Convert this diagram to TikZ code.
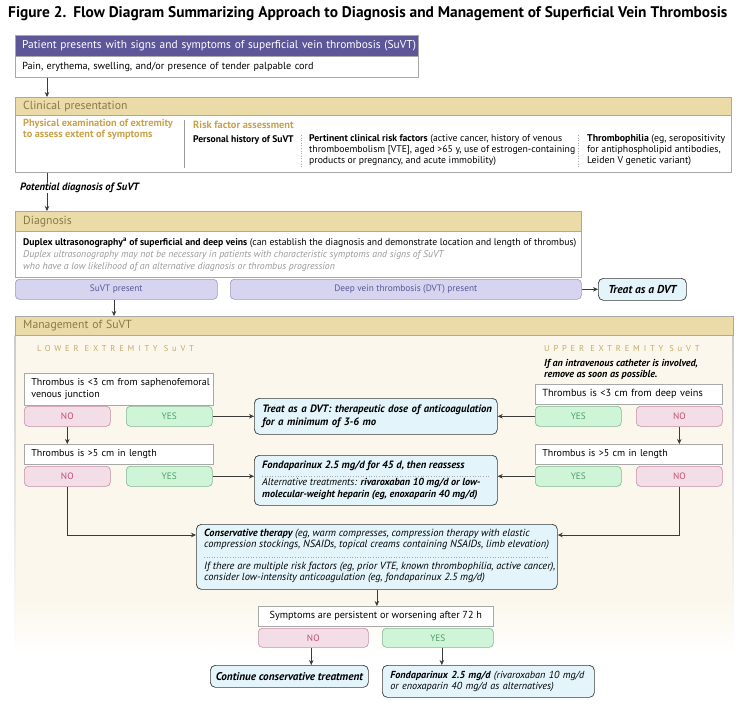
\documentclass[tikz,border=0pt]{standalone}
\usepackage{fontspec}
\setmainfont{PT Sans}
\usetikzlibrary{arrows.meta,calc}
\definecolor{purpH}{HTML}{5D5698}
\definecolor{purpL}{HTML}{D6D4EF}
\definecolor{purpB}{HTML}{9C98C8}
\definecolor{purpT}{HTML}{5A5896}
\definecolor{tanH}{HTML}{EADBA8}
\definecolor{tanT}{HTML}{8A7A4A}
\definecolor{goldT}{HTML}{C9A24C}
\definecolor{goldL}{HTML}{C8A86A}
\definecolor{cream}{HTML}{FBF7EC}
\definecolor{pinkF}{HTML}{F3DDE6}
\definecolor{pinkB}{HTML}{C58FA5}
\definecolor{pinkT}{HTML}{C0506E}
\definecolor{greenF}{HTML}{CFF5D8}
\definecolor{greenB}{HTML}{86B592}
\definecolor{greenT}{HTML}{4D9E64}
\definecolor{blueF}{HTML}{E3F5FB}
\definecolor{grayB}{HTML}{A8A8A8}
\definecolor{grayT}{HTML}{9A9A9A}
\definecolor{lineC}{HTML}{3A3A3A}
\newcommand\myTitle{\fontsize{15.4}{17}\selectfont\bfseries}
\newcommand\myHdr{\fontsize{11.4}{13}\selectfont}
\newcommand\myTan{\fontsize{11.7}{13}\selectfont}
\newcommand\myBody{\fontsize{10.2}{11}\selectfont}
\newcommand\myQ{\fontsize{10}{12}\selectfont}
\newcommand\myBtn{\fontsize{9.3}{11}\selectfont}
\newcommand\mySpaced{\fontsize{8.5}{10}\selectfont\addfontfeature{LetterSpace=45}}
\begin{document}
\begin{tikzpicture}[x=1pt,y=-1pt,
  txt/.style={inner sep=0pt, align=left, font=\myBody, text=black},
  hdrbar/.style={anchor=north west, inner xsep=8pt, inner ysep=0pt, align=left, fill=tanH, text=tanT, font=\myTan, draw=grayB, line width=0.5pt},
  bodybox/.style={anchor=north west, inner sep=0pt, fill=white, draw=grayB, line width=0.6pt},
  qbox/.style={anchor=north west, inner xsep=7pt, inner ysep=0pt, align=left, fill=white, draw=grayB, line width=0.6pt, font=\myQ},
  btn/.style={anchor=north west, rounded corners=4pt, line width=0.6pt, inner sep=0pt, font=\myBtn},
  nobtn/.style={btn, fill=pinkF, draw=pinkB, text=pinkT, minimum height=20pt},
  yesbtn/.style={btn, fill=greenF, draw=greenB, text=greenT, minimum height=20pt},
  pbtn/.style={btn, fill=purpL, draw=purpB, text=purpT, minimum height=20pt},
  tbox/.style={anchor=north west, draw=lineC, fill=blueF, rounded corners=5pt, line width=0.7pt, inner sep=0pt},
  arr/.style={-{Stealth[length=5pt,width=4.5pt]}, line width=0.6pt, draw=lineC},
  conn/.style={line width=0.6pt, draw=lineC},
  dotsep/.style={draw=grayB, line width=0.6pt, dotted},
]
\useasboundingbox (0,0) rectangle (743,711);
\fill[white] (0,0) rectangle (743,711);

% Title
\node[anchor=west, inner sep=0pt, font=\myTitle] (title) at (8,14)
  {Figure 2.\hspace{0.45em}Flow Diagram Summarizing Approach to Diagnosis and Management of Superficial Vein Thrombosis};

% Patient presents
\node[anchor=north west, fill=purpH, text=white, minimum width=403pt, minimum height=21pt, inner xsep=7pt, inner ysep=0pt, text width=389pt, align=left, font=\myHdr] (pat) at (15,35)
  {\mbox{Patient presents with signs and symptoms of superficial vein thrombosis (SuVT)}};
\node[bodybox, minimum width=403pt, minimum height=21pt, inner xsep=7pt, text width=389pt, align=left, font=\myBody] (pain) at (15,56)
  {Pain, erythema, swelling, and/or presence of tender palpable cord};
\draw[draw=grayB, line width=0.6pt] (pat.north west) rectangle (pain.south east);

% Clinical presentation
\node[hdrbar, minimum width=716pt, minimum height=18pt, text width=700pt] (clinh) at (15,97) {Clinical presentation};
\node[bodybox, minimum width=716pt, minimum height=57pt] (clinb) at (15,115) {};
\draw[arr] ([xshift=32pt]pain.south west) -- ([xshift=32pt]clinh.north west);

\node[txt, anchor=north west, text=goldT, font=\fontsize{10.3}{11}\selectfont\bfseries] (phys) at (23,119)
  {Physical examination of extremity\\to assess extent of symptoms};
\draw[draw=grayT, line width=0.8pt] (184,120) -- (184,168);
\node[txt, anchor=west, text=goldT, font=\fontsize{10.4}{11}\selectfont\bfseries] (rfa) at (193,125) {Risk factor assessment};
\node[txt, anchor=west, font=\fontsize{9.6}{11}\selectfont\bfseries] (phist) at (193,140) {Personal history of SuVT};
\draw[dotsep] (301,135) -- (301,168);
\node[txt, anchor=north west, font=\fontsize{9.7}{11}\selectfont] (pcrf) at (309,134)
  {\textbf{Pertinent clinical risk factors} (active cancer, history of venous\\thromboembolism [VTE], aged >65 y, use of estrogen-containing\\products or pregnancy, and acute immobility)};
\draw[dotsep] (578,135) -- (578,168);
\node[txt, anchor=north west, font=\fontsize{9.8}{11}\selectfont] (thph) at (587,134)
  {\textbf{Thrombophilia} (eg, seropositivity\\for antiphospholipid antibodies,\\Leiden V genetic variant)};

% Potential diagnosis
\node[txt, anchor=west, font=\fontsize{10.6}{12}\selectfont\bfseries\itshape] (pdx) at (20,188) {Potential diagnosis of SuVT};
\draw[conn] ([xshift=32pt]clinb.south west) -- ([xshift=32pt]clinb.south west |- pdx.north);

% Diagnosis
\node[hdrbar, minimum width=566pt, minimum height=20pt, text width=550pt] (diagh) at (15,211) {Diagnosis};
\node[bodybox, minimum width=566pt, minimum height=46pt] (diagb) at (15,231) {};
\draw[arr] ([xshift=32pt]clinb.south west |- pdx.south) -- ([xshift=32pt]diagh.north west);
\node[txt, anchor=west, font=\fontsize{9.7}{11}\selectfont] (dup) at (23,243)
  {\textbf{Duplex ultrasonography\textsuperscript{a} of superficial and deep veins} (can establish the diagnosis and demonstrate location and length of thrombus)};
\node[txt, anchor=north west, text=grayT, font=\fontsize{9.8}{12}\selectfont\itshape, align=left] (dupn) at (23,250)
  {Duplex ultrasonography may not be necessary in patients with characteristic symptoms and signs of SuVT\\who have a low likelihood of an alternative diagnosis or thrombus progression};

\node[pbtn, minimum width=202pt] (suvt) at (15,279) {SuVT present};
\node[pbtn, minimum width=351pt] (dvt) at (230,279) {Deep vein thrombosis (DVT) present};
\node[tbox, minimum width=88pt, minimum height=22pt, font=\fontsize{11.5}{13}\selectfont\bfseries\itshape] (tdvt) at (598,278) {Treat as a DVT};
\draw[arr] (dvt.east) -- (dvt.east -| tdvt.west);

% Management
\fill[cream] (15,335) rectangle (733,600);
\shade[top color=cream, bottom color=white] (15,599.5) rectangle (733,655);
\shade[top color=grayB!60, bottom color=white] (14.7,335) rectangle (15.3,655);
\shade[top color=grayB!60, bottom color=white] (732.7,335) rectangle (733.3,655);
\node[hdrbar, minimum width=718pt, minimum height=19pt, text width=702pt] (mgmth) at (15,316) {Management of SuVT};
\draw[arr] ([xshift=99pt]suvt.south west) -- ([xshift=99pt]mgmth.north west);

\node[txt, anchor=west, text=goldL, font=\mySpaced] (lower) at (37,349) {LOWER EXTREMITY SuVT};
\node[txt, anchor=west, text=goldL, font=\mySpaced] (upper) at (544,349) {UPPER EXTREMITY SuVT};
\node[txt, anchor=north west, font=\fontsize{10.1}{11}\selectfont\bfseries\itshape] (cath) at (544,359)
  {If an intravenous catheter is involved,\\remove as soon as possible.};

% Row 1
\node[qbox, minimum height=32pt, text width=175pt] (lq1) at (24,373) {\mbox{Thrombus is <3 cm from saphenofemoral}\\venous junction};
\node[nobtn, minimum width=86pt] (ln1) at (24,406) {NO};
\node[yesbtn, minimum width=86pt] (ly1) at (126,406) {YES};
\node[tbox, minimum height=36pt, inner xsep=8pt, text width=227pt, align=left, font=\fontsize{10.7}{12.5}\selectfont\bfseries\itshape] (t1) at (254,398)
  {\mbox{Treat as a DVT: therapeutic dose of anticoagulation}\\for a minimum of 3-6 mo};
\node[qbox, minimum height=20pt, text width=173pt, font=\fontsize{10.3}{12}\selectfont] (rq1) at (535,384) {\mbox{Thrombus is <3 cm from deep veins}};
\node[yesbtn, minimum width=86pt] (ry1) at (535,406) {YES};
\node[nobtn, minimum width=86pt] (rn1) at (636,406) {NO};
\draw[arr] (ly1.east) -- (ly1.east -| t1.west);
\draw[arr] (ry1.west) -- (ry1.west -| t1.east);

% Row 2
\node[qbox, minimum height=20pt, text width=175pt] (lq2) at (24,444) {Thrombus is >5 cm in length};
\node[nobtn, minimum width=86pt] (ln2) at (24,466) {NO};
\node[yesbtn, minimum width=86pt] (ly2) at (126,466) {YES};
\node[qbox, minimum height=20pt, text width=173pt] (rq2) at (535,444) {Thrombus is >5 cm in length};
\node[yesbtn, minimum width=86pt] (ry2) at (535,466) {YES};
\node[nobtn, minimum width=86pt] (rn2) at (636,466) {NO};
\draw[arr] (ln1.south) -- (ln1.south |- lq2.north);
\draw[arr] (rn1.south) -- (rn1.south |- rq2.north);

\node[tbox, minimum width=243pt, minimum height=50pt] (f1) at (254,455) {};
\node[txt, anchor=west, font=\fontsize{10.6}{12}\selectfont\bfseries\itshape] (f1a) at (262,466) {Fondaparinux 2.5 mg/d for 45 d, then reassess};
\draw[dotsep] (262,476) -- (489,476);
\node[txt, anchor=north west, font=\fontsize{10.2}{11.5}\selectfont\itshape] (f1b) at (262,478.5)
  {Alternative treatments: \textbf{rivaroxaban 10 mg/d or low-}\\\textbf{molecular-weight heparin (eg, enoxaparin 40 mg/d)}};
\draw[arr] (ly2.east) -- (ly2.east -| f1.west);
\draw[arr] (ry2.west) -- (ry2.west -| f1.east);

% Conservative therapy
\node[tbox, minimum width=361pt, minimum height=65pt] (cons) at (196,524) {};
\node[txt, anchor=north west, font=\fontsize{10.4}{11}\selectfont\itshape] (cons1) at (204,529)
  {\textbf{Conservative therapy} (eg, warm compresses, compression therapy with elastic\\compression stockings, NSAIDs, topical creams containing NSAIDs, limb elevation)};
\draw[dotsep] (204,557) -- (549,557);
\node[txt, anchor=north west, font=\fontsize{10.4}{11}\selectfont\itshape] (cons2) at (204,562)
  {If there are multiple risk factors (eg, prior VTE, known thrombophilia, active cancer),\\consider low-intensity anticoagulation (eg, fondaparinux 2.5 mg/d)};
\draw[arr] (ln2.south) |- ([yshift=-11pt]cons.north west);
\draw[arr] (rn2.south) |- ([yshift=-11pt]cons.north east);

% Symptoms
\node[qbox, minimum height=20pt, minimum width=235pt, align=center, font=\fontsize{10.2}{12}\selectfont] (sym) at (258,606) {Symptoms are persistent or worsening after 72 h};
\draw[arr] (cons.south) -- (cons.south |- sym.north);
\node[nobtn, minimum width=110pt, minimum height=19pt] (sn) at (258,628) {NO};
\node[yesbtn, minimum width=111pt, minimum height=19pt] (sy) at (382,628) {YES};
\node[tbox, minimum width=158pt, minimum height=22pt, font=\fontsize{11.2}{12}\selectfont\bfseries\itshape] (cont) at (210,665) {Continue conservative treatment};
\node[tbox, minimum height=32pt, inner xsep=8pt, text width=196pt, align=left, font=\fontsize{10.2}{11.5}\selectfont\itshape] (f2) at (382,665)
  {\mbox{\textbf{Fondaparinux 2.5 mg/d} (rivaroxaban 10 mg/d}\\or enoxaparin 40 mg/d as alternatives)};
\draw[arr] ([xshift=-2pt]sn.south) -- ([xshift=-2pt]sn.south |- cont.north);
\draw[arr] ([xshift=4pt]sy.south) -- ([xshift=4pt]sy.south |- f2.north);
\end{tikzpicture}
\end{document}
